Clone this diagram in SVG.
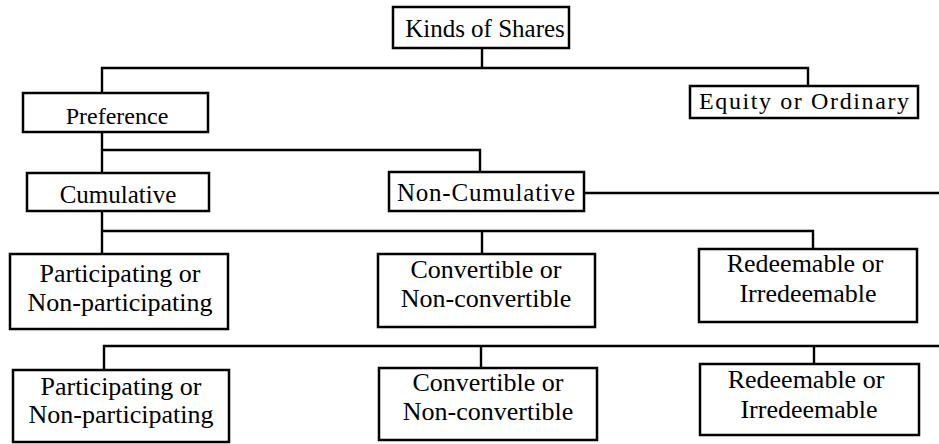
<svg xmlns="http://www.w3.org/2000/svg" width="939" height="444" viewBox="0 0 939 444">
<style>
.box{fill:#fff;stroke:#000;stroke-width:2.5}
.ln{fill:none;stroke:#000;stroke-width:2.4}
text{font-family:"Liberation Serif","Times New Roman",serif;fill:#000;text-anchor:middle}
.t1{font-size:25px}
.t2{font-size:26px}
</style>
<rect width="939" height="444" fill="#fff"/>
<g id="connectors">
<path class="ln" d="M482 48 V68"/>
<path class="ln" d="M102 93 V68 H808 V86"/>
<path class="ln" d="M102 132 V173"/>
<path class="ln" d="M102 150 H480 V172"/>
<path class="ln" d="M584 193 H939"/>
<path class="ln" d="M102 211 V254"/>
<path class="ln" d="M102 231 H813 V249"/>
<path class="ln" d="M482 231 V254"/>
<path class="ln" d="M939 346 H104 V370"/>
<path class="ln" d="M481 346 V368"/>
<path class="ln" d="M814 346 V364"/>
</g>
<g id="kinds">
<rect class="box" x="393" y="7" width="176" height="41"/>
<text class="t1" x="485" y="37">Kinds of Shares</text>
</g>
<g id="preference">
<rect class="box" x="23" y="93" width="185" height="39"/>
<text x="117" y="124" font-size="24">Preference</text>
</g>
<g id="equity">
<rect class="box" x="690" y="86" width="228" height="32"/>
<text x="804" y="109" font-size="24" textLength="210" lengthAdjust="spacing">Equity or Ordinary</text>
</g>
<g id="cumulative">
<rect class="box" x="27" y="173" width="182" height="38"/>
<text class="t1" x="118" y="203">Cumulative</text>
</g>
<g id="noncumulative">
<rect class="box" x="389" y="172" width="195" height="39"/>
<text class="t1" x="486" y="201" textLength="178" lengthAdjust="spacing">Non-Cumulative</text>
</g>
<g id="participating1">
<rect class="box" x="10" y="254" width="218" height="75"/>
<text class="t2" x="120" y="282">Participating or</text>
<text class="t2" x="120" y="311">Non-participating</text>
</g>
<g id="convertible1">
<rect class="box" x="378" y="254" width="217" height="73"/>
<text class="t2" x="486" y="278">Convertible or</text>
<text class="t2" x="486" y="307">Non-convertible</text>
</g>
<g id="redeemable1">
<rect class="box" x="699" y="249" width="218" height="73"/>
<text class="t2" x="805" y="272">Redeemable or</text>
<text class="t2" x="808" y="302">Irredeemable</text>
</g>
<g id="participating2">
<rect class="box" x="13" y="370" width="216" height="72"/>
<text class="t2" x="121" y="395">Participating or</text>
<text class="t2" x="121" y="423">Non-participating</text>
</g>
<g id="convertible2">
<rect class="box" x="379" y="368" width="218" height="72"/>
<text class="t2" x="488" y="391">Convertible or</text>
<text class="t2" x="488" y="420">Non-convertible</text>
</g>
<g id="redeemable2">
<rect class="box" x="700" y="364" width="219" height="71"/>
<text class="t2" x="806" y="388">Redeemable or</text>
<text class="t2" x="809" y="418">Irredeemable</text>
</g>
</svg>
